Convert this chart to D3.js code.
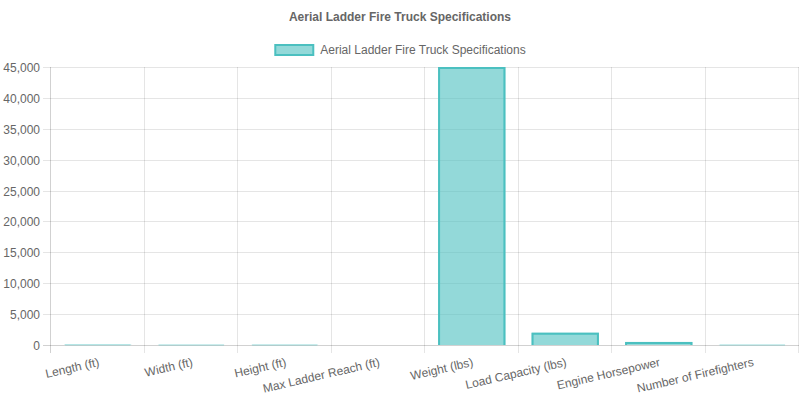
<!DOCTYPE html>
<html>
<head>
<meta charset="utf-8">
<script src="https://cdn.jsdelivr.net/npm/d3@7"></script>
<style>
  body { margin: 0; background: #fff; }
  svg { display: block; font-family: "Liberation Sans", Arial, Helvetica, sans-serif; }
</style>
</head>
<body>
<svg id="chart" width="800" height="400"></svg>
<script>
const categories = ["Length (ft)", "Width (ft)", "Height (ft)", "Max Ladder Reach (ft)", "Weight (lbs)", "Load Capacity (lbs)", "Engine Horsepower", "Number of Firefighters"];
const values = [40, 8.5, 12, null, 45000, 2000, 500, 6];
const yTicks = [0, 5000, 10000, 15000, 20000, 25000, 30000, 35000, 40000, 45000];
const seriesName = "Aerial Ladder Fire Truck Specifications";
const chartTitle = "Aerial Ladder Fire Truck Specifications";

const svg = d3.select("#chart");
const W = 800, H = 400;
const m = { left: 51, right: 1, top: 67, bottom: 55 };
const fill = "rgba(75,192,192,0.6)", stroke = "rgb(75,192,192)";
const textColor = "#666";
const gridColor = "rgba(0,0,0,0.1)";

const x = d3.scaleBand().domain(categories).range([m.left, W - m.right]).paddingInner(0).paddingOuter(0);
const y = d3.scaleLinear().domain([0, 45000]).range([H - m.bottom, m.top]);

// Title
svg.append("text").attr("x", W / 2).attr("y", 17).attr("text-anchor", "middle")
  .attr("dominant-baseline", "central").attr("font-size", 12).attr("font-weight", "bold")
  .attr("fill", textColor).text(chartTitle);

// Legend
const lg = svg.append("g");
const legText = lg.append("text").attr("y", 50).attr("dominant-baseline", "central")
  .attr("font-size", 12).attr("fill", textColor).text(seriesName);
const tw = legText.node().getComputedTextLength();
const totalW = 40 + 6 + tw;
const lx = (W - totalW) / 2;
lg.append("rect").attr("x", lx + 1).attr("y", 45).attr("width", 38).attr("height", 10)
  .attr("fill", fill).attr("stroke", stroke).attr("stroke-width", 2);
legText.attr("x", lx + 46);

// Horizontal grid + y ticks
const gy = svg.append("g");
yTicks.forEach(t => {
  const yy = Math.round(y(t)) + 0.5;
  gy.append("line").attr("x1", m.left - 8).attr("x2", W - m.right).attr("y1", yy).attr("y2", yy)
    .attr("stroke", t === 0 ? "rgba(0,0,0,0.18)" : gridColor).attr("stroke-width", 1);
  gy.append("text").attr("x", m.left - 11).attr("y", yy).attr("text-anchor", "end")
    .attr("dominant-baseline", "central").attr("font-size", 12).attr("fill", textColor)
    .text(d3.format(",")(t));
});

// Vertical grid lines at category boundaries
const gx = svg.append("g");
for (let i = 0; i <= categories.length; i++) {
  const xx = Math.round(m.left + i * x.bandwidth()) - 0.5;
  gx.append("line").attr("x1", xx).attr("x2", xx).attr("y1", m.top).attr("y2", H - m.bottom + 8)
    .attr("stroke", i === 0 ? "rgba(0,0,0,0.18)" : gridColor).attr("stroke-width", 1);
}

// Bars
const bw = x.bandwidth() * 0.8 * 0.9;
const bars = svg.append("g");
categories.forEach((c, i) => {
  const v = values[i];
  if (v === null || v === undefined) return;
  const cx = x(c) + x.bandwidth() / 2;
  const x0 = cx - bw / 2, x1 = cx + bw / 2;
  const yt = y(v), yb = y(0);
  bars.append("rect").attr("x", x0).attr("y", yt).attr("width", bw).attr("height", Math.max(0, yb - yt))
    .attr("fill", fill);
  const h = yb - yt;
  const inset = Math.min(1, h / 2);
  bars.append("path")
    .attr("d", `M${x0 + 1},${yb} L${x0 + 1},${yt + inset} L${x1 - 1},${yt + inset} L${x1 - 1},${yb}`)
    .attr("fill", "none").attr("stroke", stroke).attr("stroke-width", Math.min(2, Math.max(h, 0.5)));
});

// X labels
const angle = -13;
categories.forEach(c => {
  const cx = x(c) + x.bandwidth() / 2;
  svg.append("text")
    .attr("transform", `translate(${cx},${H - m.bottom + 12}) rotate(${angle})`)
    .attr("text-anchor", "end").attr("dy", "0.75em")
    .attr("font-size", 12).attr("fill", textColor).text(c);
});
</script>
</body>
</html>
